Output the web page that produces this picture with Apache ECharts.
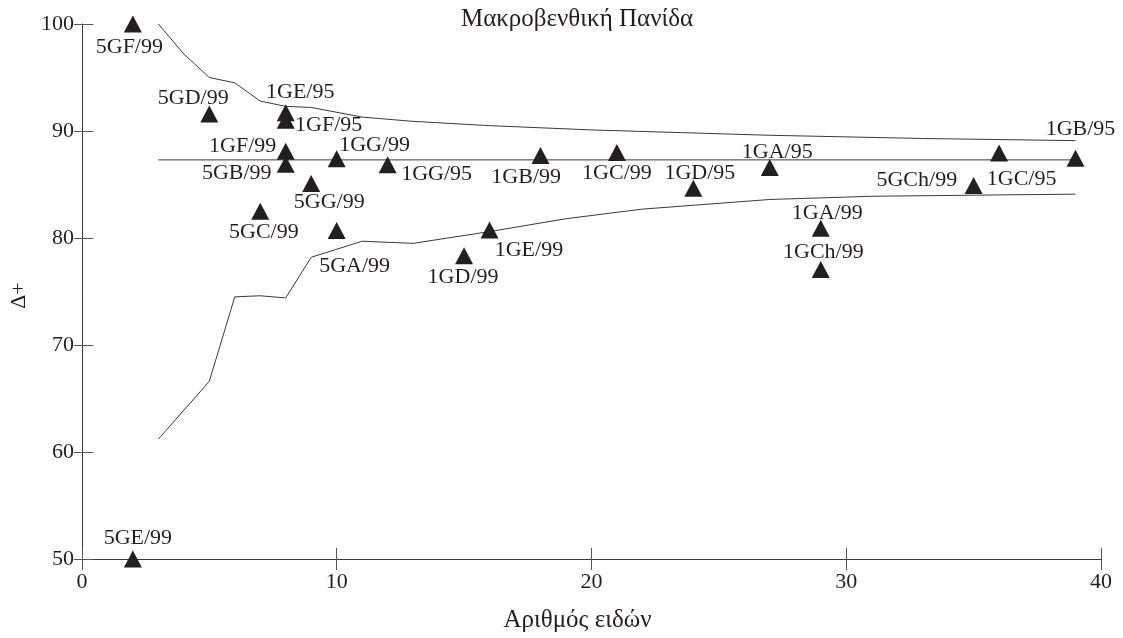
<!DOCTYPE html>
<html>
<head>
<meta charset="utf-8">
<script src="https://cdn.jsdelivr.net/npm/echarts@6/dist/echarts.min.js"></script>
<style>
  html, body { margin: 0; padding: 0; background: #ffffff; }
  #chart { width: 1123px; height: 638px; }
</style>
</head>
<body>
<div id="chart"></div>
<script>
// Station samples: number of species (x) and taxonomic distinctness Δ+ (y)
const stations = ['5GF/99', '5GE/99', '5GD/99', '1GE/95', '1GF/95', '1GF/99', '5GB/99',
  '1GG/99', '1GG/95', '5GG/99', '5GC/99', '5GA/99', '1GB/99', '1GC/99', '1GD/95',
  '1GD/99', '1GE/99', '1GA/95', '1GC/95', '1GB/95', '5GCh/99', '1GA/99', '1GCh/99'];
const speciesCount = [2, 2, 5, 8, 8, 8, 8, 10, 12, 9, 7, 10, 18, 21, 24, 15, 16, 27, 36, 39, 35, 29, 29];
const deltaPlus = [100, 50, 91.6, 91.7, 91.0, 88.1, 86.9, 87.4, 86.85, 85.1, 82.5, 80.7, 87.7, 88.0,
  84.65, 78.35, 80.75, 86.6, 87.95, 87.45, 84.9, 80.9, 77.05];

// Expected mean Δ+ and the upper / lower limits of the 95% probability funnel
const meanX = [3, 39];
const meanY = [87.3, 87.3];
const upperX = [3, 4, 5, 6, 7, 8, 9, 11, 13, 16, 20, 27, 33, 39];
const upperY = [100, 97.2, 95.0, 94.5, 92.8, 92.3, 92.2, 91.3, 90.9, 90.5, 90.1, 89.6, 89.3, 89.1];
const lowerX = [3, 5, 6, 7, 8, 9, 11, 13, 16, 19, 22, 27, 31, 35, 39];
const lowerY = [61.2, 66.6, 74.5, 74.6, 74.4, 78.2, 79.7, 79.5, 80.6, 81.8, 82.7, 83.6, 83.9, 84.0, 84.1];

// Axis ticks
const xTicks = { min: 0, max: 40, interval: 10 };
const yTicks = { min: 50, max: 100, interval: 10 };

// Where each station's label sits relative to its marker (pixels)
const labelOffset = {
  '5GF/99': [-3.5, 23], '5GE/99': [5, -21], '5GD/99': [-16, -16], '1GE/95': [14.5, -20.5],
  '1GF/95': [43, 5], '1GF/99': [-43, -5.6], '5GB/99': [-49, 9], '1GG/99': [38, -13.7],
  '1GG/95': [49, 9.4], '5GG/99': [18, 19], '5GC/99': [3.6, 20.7], '5GA/99': [18, 36],
  '1GB/99': [-14.3, 22], '1GC/99': [0, 21.3], '1GD/95': [6.5, -15], '1GD/99': [-1, 21.7],
  '1GE/99': [39.4, 20], '1GA/95': [7.4, -15], '1GC/95': [22.5, 26.4], '1GB/95': [5, -29],
  '5GCh/99': [-56.8, -5.7], '1GA/99': [6.5, -15.6], '1GCh/99': [2.6, -17.3]
};

const FONT = '"Liberation Serif", "Times New Roman", serif';
const INK = '#231f20';
const LINE = '#3a3a3a';

const zip = (xs, ys) => xs.map((x, i) => [x, ys[i]]);

const chart = echarts.init(document.getElementById('chart'), null, { renderer: 'canvas' });

const pointData = stations.map((name, i) => ({
  name: name,
  value: [speciesCount[i], deltaPlus[i]],
  label: { offset: labelOffset[name] }
}));

const lineSeries = (data) => ({
  type: 'line',
  data: data,
  xAxisIndex: 0,
  yAxisIndex: 0,
  showSymbol: false,
  symbol: 'none',
  silent: true,
  clip: false,
  lineStyle: { color: LINE, width: 1 },
  z: 2
});

chart.setOption({
  animation: false,
  backgroundColor: '#ffffff',
  textStyle: { fontFamily: FONT, color: INK },
  grid: { left: 77.7, right: 22, top: 24, bottom: 69, containLabel: false },
  graphic: [{
    type: 'text',
    x: 577,
    y: 19,
    style: {
      text: 'Μακροβενθική Πανίδα',
      font: '25px ' + FONT,
      fill: INK,
      align: 'center',
      verticalAlign: 'middle'
    }
  }],
  xAxis: [{
    type: 'value',
    min: xTicks.min, max: xTicks.max, interval: xTicks.interval,
    position: 'bottom',
    name: 'Αριθμός ειδών',
    nameLocation: 'middle',
    nameGap: 49,
    nameTextStyle: { fontFamily: FONT, fontSize: 25, color: INK, padding: [0, 28, 0, 0] },
    axisLine: { show: true, lineStyle: { color: LINE, width: 1 } },
    axisTick: { show: true, inside: true, length: 11, lineStyle: { color: '#555', width: 1 } },
    axisLabel: { fontFamily: FONT, fontSize: 22, color: INK, margin: 12 },
    splitLine: { show: false }
  }, {
    type: 'value',
    min: xTicks.min, max: xTicks.max, interval: xTicks.interval,
    position: 'bottom',
    offset: 0,
    axisLine: { show: false },
    axisTick: { show: true, inside: false, length: 11, lineStyle: { color: '#555', width: 1 } },
    axisLabel: { show: false },
    splitLine: { show: false }
  }],
  yAxis: [{
    type: 'value',
    min: yTicks.min, max: yTicks.max, interval: yTicks.interval,
    position: 'left',
    name: 'Δ+',
    nameLocation: 'middle',
    nameRotate: 90,
    nameGap: 44,
    nameTextStyle: { fontFamily: FONT, fontSize: 22, color: INK, padding: [0, 8, 0, 0] },
    axisLine: { show: true, lineStyle: { color: LINE, width: 1 } },
    axisTick: { show: true, inside: true, length: 11.5, lineStyle: { color: '#555', width: 1 } },
    axisLabel: { fontFamily: FONT, fontSize: 22, color: INK, margin: 8 },
    splitLine: { show: false }
  }, {
    type: 'value',
    min: yTicks.min, max: yTicks.max, interval: yTicks.interval,
    position: 'left',
    offset: 0,
    axisLine: { show: false },
    axisTick: { show: true, inside: false, length: 8, lineStyle: { color: '#555', width: 1 } },
    axisLabel: { show: false },
    splitLine: { show: false }
  }],
  series: [
    lineSeries(zip(upperX, upperY)),
    lineSeries(zip(meanX, meanY)),
    lineSeries(zip(lowerX, lowerY)),
    {
      type: 'scatter',
      xAxisIndex: 0,
      yAxisIndex: 0,
      data: pointData,
      symbol: 'triangle',
      symbolSize: [18, 17],
      clip: false,
      itemStyle: { color: INK, opacity: 1 },
      label: {
        show: true,
        position: 'inside',
        formatter: '{b}',
        fontFamily: FONT,
        fontSize: 22,
        color: INK,
        align: 'center',
        verticalAlign: 'middle'
      },
      emphasis: { disabled: true },
      z: 3
    }
  ]
});
</script>
</body>
</html>
